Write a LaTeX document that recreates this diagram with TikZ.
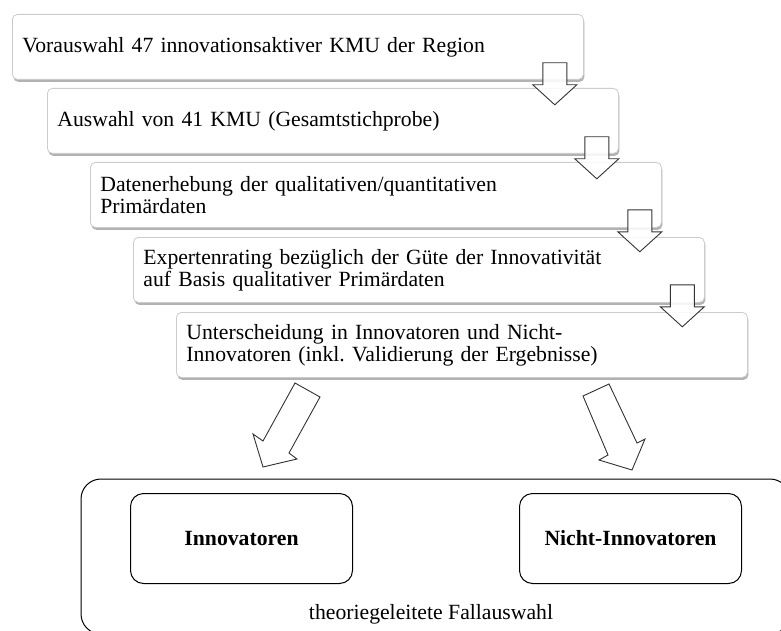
\documentclass[tikz,border=0pt]{standalone}
\usepackage{fontspec}
\setmainfont{Liberation Serif}
\usetikzlibrary{shadows,calc}
\frenchspacing

\tikzset{
  stepbox/.style={
    draw=black!20, fill=white, line width=0.8pt, rounded corners=5pt,
    minimum width=571pt, minimum height=65pt, text width=551pt,
    inner xsep=10pt, inner ysep=0pt, align=left, anchor=north west,
    font=\fontsize{21.7}{22}\selectfont,
    drop shadow={shadow xshift=1pt, shadow yshift=-2.5pt, fill=black!55, opacity=0.55}
  },
  blockarrow/.style={draw=black!80, fill=white, fill opacity=0.88, line width=0.9pt, line join=miter},
  groupbox/.style={draw=black, line width=1pt, rounded corners=13pt,
    minimum width=222pt, minimum height=90pt, anchor=north west,
    font=\fontsize{21.7}{22}\selectfont\bfseries},
  plain/.style={font=\fontsize{21.7}{22}\selectfont},
  dnarrow/.pic={
    \draw[blockarrow] (-12,0) -- (12,0) -- (12,22) -- (22,22) -- (0,42)
      -- (-22,22) -- (-12,22) -- cycle;
  }
}

\begin{document}
\begin{tikzpicture}[x=1pt,y=-1pt]
  \useasboundingbox (0,0) rectangle (781,631);
  \clip (0,0) rectangle (781,631);
  \fill[white] (0,0) rectangle (781,631);

  % process steps
  \node[stepbox] (b1) at (12,14) {Vorauswahl 47 innovationsaktiver KMU der Region};
  \node[stepbox] (b2) at (47,88) {Auswahl von 41 KMU (Gesamtstichprobe)};
  \node[stepbox] (b3) at (90,162) {Datenerhebung der qualitativen/quantitativen\\Primärdaten};
  \node[stepbox] (b4) at (133,237) {Expertenrating bezüglich der Güte der Innovativität\\auf Basis qualitativer Primärdaten};
  \node[stepbox] (b5) at (176,312) {Unterscheidung in Innovatoren und Nicht-\\Innovatoren (inkl. Validierung der Ergebnisse)};

  % block arrows between the steps
  \pic at ($(b1.south east)+(-29,-17)$) {dnarrow};
  \pic at ($(b2.south east)+(-22,-17)$) {dnarrow};
  \pic at ($(b3.south east)+(-22,-18)$) {dnarrow};
  \pic at ($(b4.south east)+(-22.5,-18)$) {dnarrow};

  % case selection frame
  \draw[black, line width=1pt, rounded corners=20pt] (81,479) rectangle (790,634);
  \node[groupbox] (inno) at (130,493) {Innovatoren};
  \node[groupbox] (nicht) at (519,493) {Nicht-Innovatoren};
  \node[plain] (fall) at (431,614) {theoriegeleitete Fallauswahl};

  % diagonal arrows towards the two groups
  \draw[blockarrow] (295,383) -- (320,397) -- (289,453) -- (297,459) -- (263,467)
    -- (253,434) -- (263,441) -- cycle;
  \draw[blockarrow] (583,396) -- (609,384) -- (637,443) -- (645,439) -- (632,470)
    -- (599,460) -- (608,455) -- cycle;
\end{tikzpicture}
\end{document}
